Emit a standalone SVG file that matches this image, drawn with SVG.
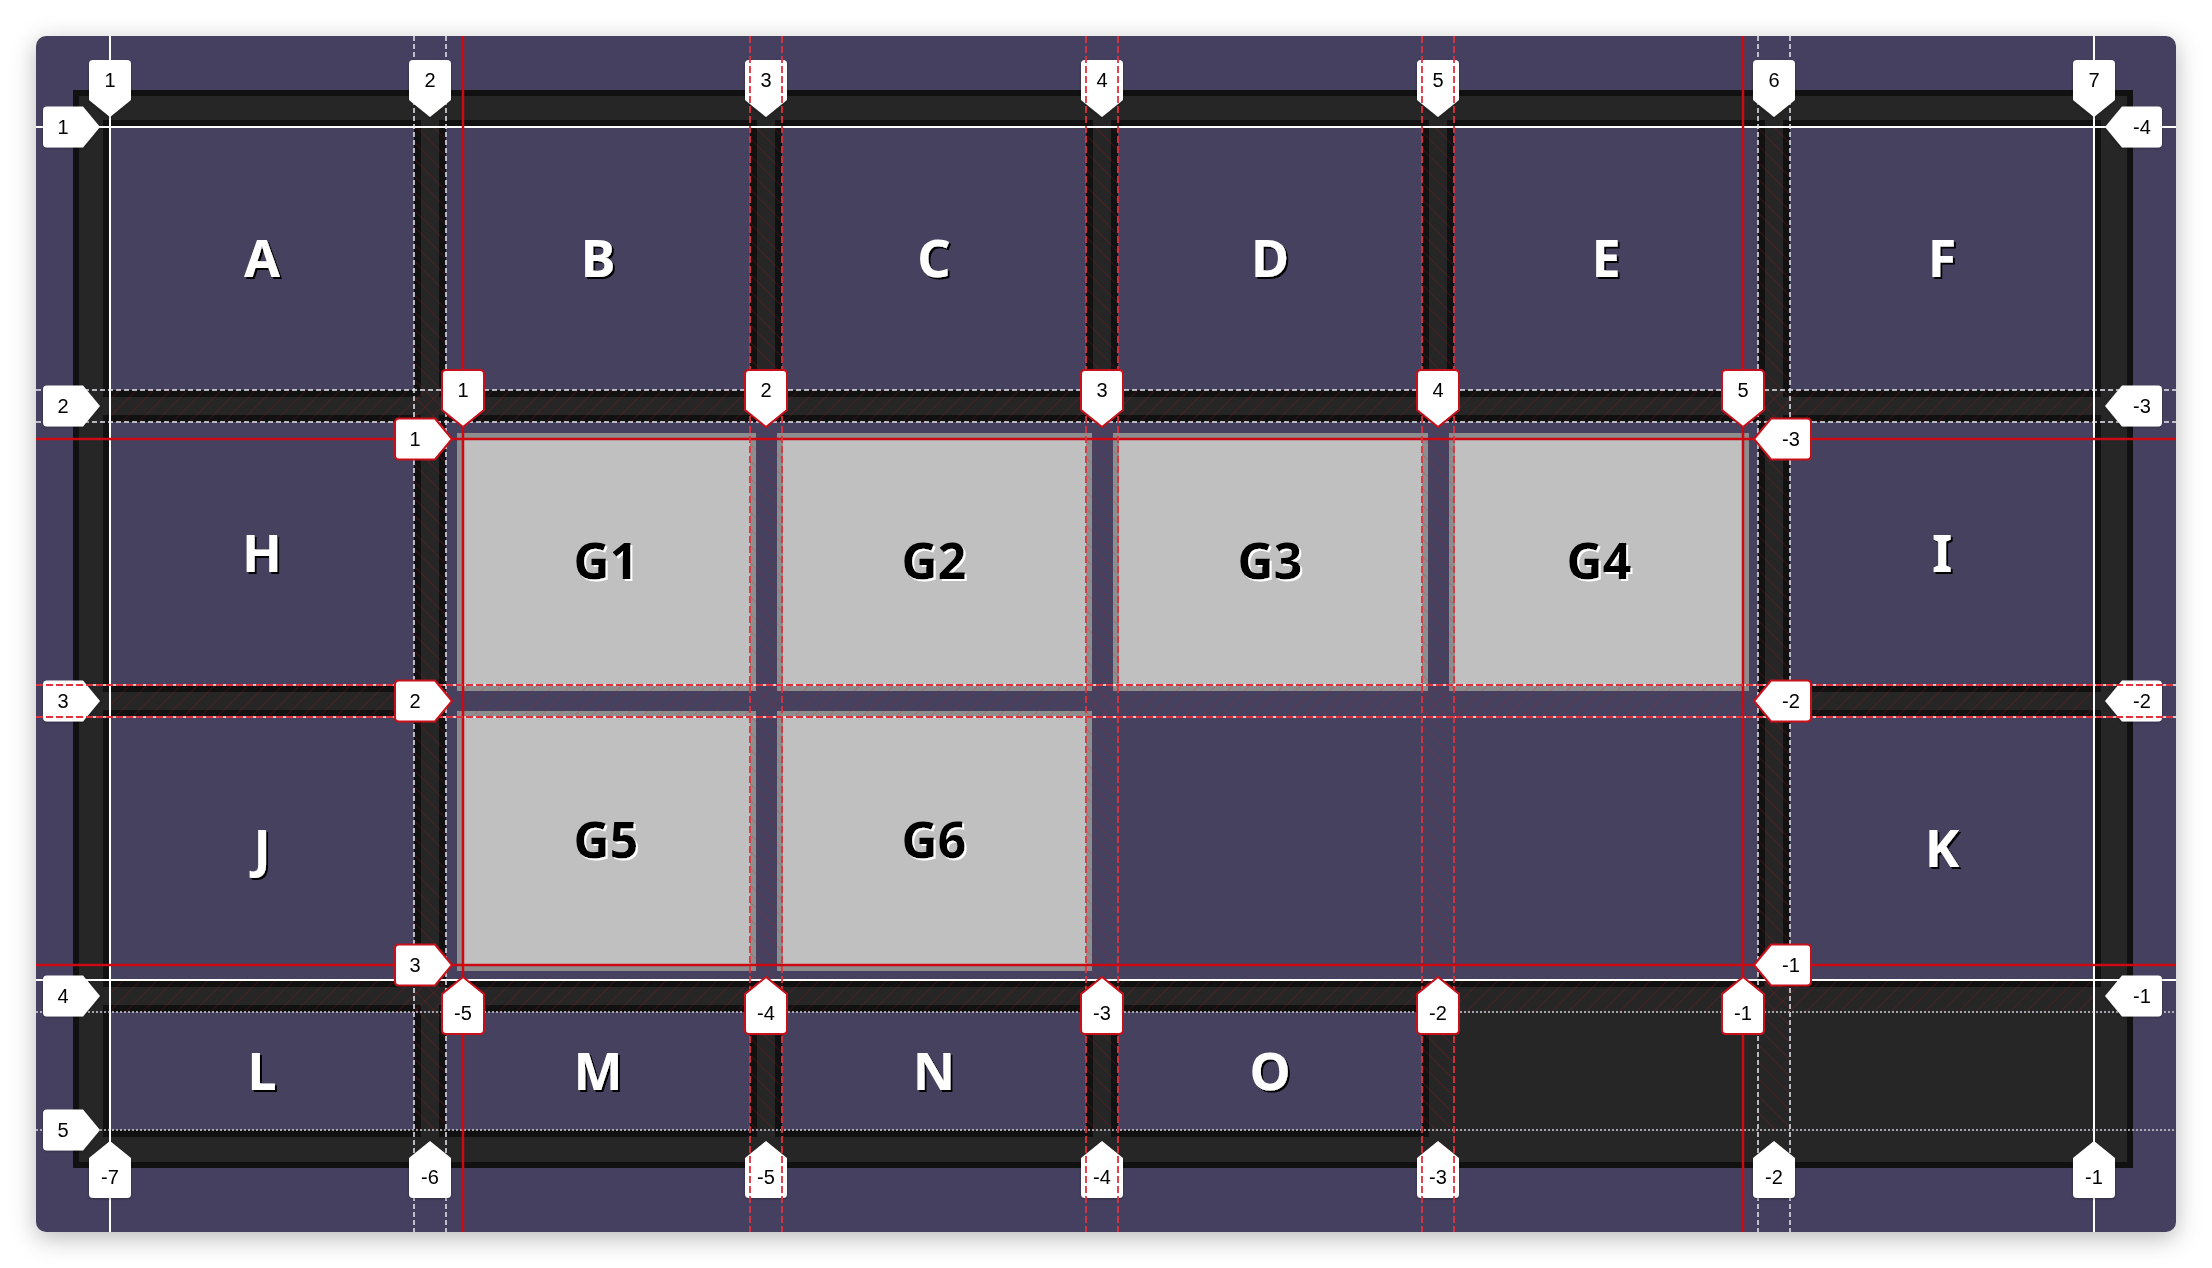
<svg xmlns="http://www.w3.org/2000/svg" xmlns:xlink="http://www.w3.org/1999/xlink" width="2212" height="1268" viewBox="0 0 2212 1268">
<style>
.band{fill:#111111}
.cell{fill:#45415f}
.gband{fill:#8e8e8e}
.gcell{fill:#c0c0c0}
.letter{font-family:"Noto Sans","Liberation Sans",sans-serif;font-weight:700;font-size:52px;fill:#ffffff;text-anchor:middle}
.gletter{font-family:"Noto Sans","Liberation Sans",sans-serif;font-weight:700;font-size:50px;fill:#000000;text-anchor:middle}
.lbl{fill:#ffffff}
.slbl{fill:#ffffff;stroke:#c8101a;stroke-width:2}
.lt{font-family:"Liberation Sans",Arial,sans-serif;font-size:20px;fill:#000000;text-anchor:middle}
.wsolid{stroke:#ffffff;stroke-width:2;fill:none}
.wdash{stroke:#e8e8f0;stroke-width:1.5;stroke-dasharray:5 3;fill:none}
.wdot{stroke:#d0d0d8;stroke-width:1.5;stroke-dasharray:2 2;fill:none}
.rsolid{stroke:#cc0a14;stroke-width:2.5;fill:none}
.rdash{stroke:#e0323c;stroke-width:1.8;stroke-dasharray:7 3;fill:none}
.wunder{stroke:#ffffff;stroke-width:1.5;fill:none}
</style>
<defs>
<filter id="pshadow" x="-5%" y="-5%" width="110%" height="115%">
<feDropShadow dx="0" dy="6" stdDeviation="12" flood-color="#000" flood-opacity="0.28"/>
</filter>
<filter id="tshadow" x="-20%" y="-20%" width="140%" height="140%">
<feDropShadow dx="2" dy="2" stdDeviation="0.3" flood-color="#000" flood-opacity="1"/>
</filter>
<filter id="gshadow" x="-20%" y="-20%" width="140%" height="140%">
<feDropShadow dx="2" dy="2" stdDeviation="0.3" flood-color="#fff" flood-opacity="1"/>
</filter>
<filter id="lshadow" x="-30%" y="-30%" width="160%" height="160%">
<feDropShadow dx="0" dy="1" stdDeviation="1" flood-color="#000" flood-opacity="0.3"/>
</filter>
<pattern id="hatchV" patternUnits="userSpaceOnUse" width="12" height="12" patternTransform="rotate(-45)">
<line x1="0" y1="0" x2="0" y2="12" stroke="#e01020" stroke-width="1" stroke-opacity="0.38"/>
</pattern>
<pattern id="hatchH" patternUnits="userSpaceOnUse" width="12" height="12" patternTransform="rotate(45)">
<line x1="0" y1="0" x2="0" y2="12" stroke="#e01020" stroke-width="1" stroke-opacity="0.38"/>
</pattern>
<clipPath id="panelClip"><rect x="36" y="36" width="2140" height="1196" rx="10"/></clipPath>
<path id="lDown" d="M0,0 L-21,-17 V-53 Q-21,-57 -17,-57 H17 Q21,-57 21,-53 V-17 Z"/>
<path id="lUp" d="M0,0 L-21,17 V53 Q-21,57 -17,57 H17 Q21,57 21,53 V17 Z"/>
<path id="lRight" d="M0,0 L-17,-20.5 H-53 Q-57,-20.5 -57,-16.5 V16.5 Q-57,20.5 -53,20.5 H-17 Z"/>
<path id="lLeft" d="M0,0 L17,-20.5 H53 Q57,-20.5 57,-16.5 V16.5 Q57,20.5 53,20.5 H17 Z"/>
</defs>

<rect width="2212" height="1268" fill="#ffffff"/>
<rect id="panel" x="36" y="36" width="2140" height="1196" rx="10" fill="#45415f" filter="url(#pshadow)"/>

<g clip-path="url(#panelClip)">
<rect id="container" x="76" y="93" width="2054" height="1072" fill="#262626" stroke="#111111" stroke-width="6"/>

<g id="bands">
<rect class="band" x="103" y="120" width="318" height="277"/>
<rect class="band" x="439" y="120" width="318" height="277"/>
<rect class="band" x="775" y="120" width="318" height="277"/>
<rect class="band" x="1111" y="120" width="318" height="277"/>
<rect class="band" x="1447" y="120" width="318" height="277"/>
<rect class="band" x="1783" y="120" width="318" height="277"/>
<rect class="band" x="103" y="415" width="318" height="277"/>
<rect class="band" x="1783" y="415" width="318" height="277"/>
<rect class="band" x="103" y="710" width="318" height="277"/>
<rect class="band" x="1783" y="710" width="318" height="277"/>
<rect class="band" x="439" y="415" width="1326" height="572"/>
<rect class="band" x="103" y="1005" width="318" height="132"/>
<rect class="band" x="439" y="1005" width="318" height="132"/>
<rect class="band" x="775" y="1005" width="318" height="132"/>
<rect class="band" x="1111" y="1005" width="318" height="132"/>
</g>

<g id="cell-A"><rect class="cell" x="110" y="127" width="304" height="263"/></g>
<g id="cell-B"><rect class="cell" x="446" y="127" width="304" height="263"/></g>
<g id="cell-C"><rect class="cell" x="782" y="127" width="304" height="263"/></g>
<g id="cell-D"><rect class="cell" x="1118" y="127" width="304" height="263"/></g>
<g id="cell-E"><rect class="cell" x="1454" y="127" width="304" height="263"/></g>
<g id="cell-F"><rect class="cell" x="1790" y="127" width="304" height="263"/></g>
<g id="cell-H"><rect class="cell" x="110" y="422" width="304" height="263"/></g>
<g id="cell-I"><rect class="cell" x="1790" y="422" width="304" height="263"/></g>
<g id="cell-J"><rect class="cell" x="110" y="717" width="304" height="263"/></g>
<g id="cell-K"><rect class="cell" x="1790" y="717" width="304" height="263"/></g>
<g id="subgrid"><rect class="cell" x="446" y="422" width="1312" height="558"/></g>
<g id="cell-L"><rect class="cell" x="110" y="1012" width="304" height="118"/></g>
<g id="cell-M"><rect class="cell" x="446" y="1012" width="304" height="118"/></g>
<g id="cell-N"><rect class="cell" x="782" y="1012" width="304" height="118"/></g>
<g id="cell-O"><rect class="cell" x="1118" y="1012" width="304" height="118"/></g>

<g id="cell-G1"><rect class="gband" x="457" y="433" width="299" height="258"/><rect class="gcell" x="463" y="439" width="287" height="246"/></g>
<g id="cell-G2"><rect class="gband" x="777" y="433" width="315" height="258"/><rect class="gcell" x="783" y="439" width="303" height="246"/></g>
<g id="cell-G3"><rect class="gband" x="1113" y="433" width="315" height="258"/><rect class="gcell" x="1119" y="439" width="303" height="246"/></g>
<g id="cell-G4"><rect class="gband" x="1449" y="433" width="300" height="258"/><rect class="gcell" x="1455" y="439" width="288" height="246"/></g>
<g id="cell-G5"><rect class="gband" x="457" y="711" width="299" height="260"/><rect class="gcell" x="463" y="717" width="287" height="248"/></g>
<g id="cell-G6"><rect class="gband" x="777" y="711" width="315" height="260"/><rect class="gcell" x="783" y="717" width="303" height="248"/></g>

<g id="hatch">
<rect x="414" y="127" width="32" height="1003" fill="url(#hatchV)"/>
<rect x="750" y="127" width="32" height="1003" fill="url(#hatchV)"/>
<rect x="1086" y="127" width="32" height="1003" fill="url(#hatchV)"/>
<rect x="1422" y="127" width="32" height="1003" fill="url(#hatchV)"/>
<rect x="1758" y="127" width="32" height="1003" fill="url(#hatchV)"/>
<rect x="110" y="390" width="1984" height="32" fill="url(#hatchH)"/>
<rect x="110" y="685" width="1984" height="32" fill="url(#hatchH)"/>
<rect x="110" y="980" width="1984" height="32" fill="url(#hatchH)"/>
</g>

<g id="letters" filter="url(#tshadow)">
<text class="letter" x="262" y="277">A</text>
<text class="letter" x="598" y="277">B</text>
<text class="letter" x="934" y="277">C</text>
<text class="letter" x="1270" y="277">D</text>
<text class="letter" x="1606" y="277">E</text>
<text class="letter" x="1942" y="277">F</text>
<text class="letter" x="262" y="572">H</text>
<text class="letter" x="1942" y="572">I</text>
<text class="letter" x="262" y="867">J</text>
<text class="letter" x="1942" y="867">K</text>
<text class="letter" x="262" y="1090">L</text>
<text class="letter" x="598" y="1090">M</text>
<text class="letter" x="934" y="1090">N</text>
<text class="letter" x="1270" y="1090">O</text>
</g>
<g id="gletters" filter="url(#gshadow)">
<text class="gletter" x="606" y="579">G1</text>
<text class="gletter" x="934" y="579">G2</text>
<text class="gletter" x="1270" y="579">G3</text>
<text class="gletter" x="1599" y="579">G4</text>
<text class="gletter" x="606" y="858">G5</text>
<text class="gletter" x="934" y="858">G6</text>
</g>

<g id="connectors">
<g id="outer-lines">
<line class="wsolid" x1="110" y1="36" x2="110" y2="1232"/>
<line class="wsolid" x1="2094" y1="36" x2="2094" y2="1232"/>
<line class="wsolid" x1="36" y1="127" x2="2176" y2="127"/>
<line class="wsolid" x1="36" y1="980" x2="2176" y2="980"/>
<line class="wdash" x1="414" y1="36" x2="414" y2="1232"/>
<line class="wdash" x1="446" y1="36" x2="446" y2="1232"/>
<line class="wdash" x1="1758" y1="36" x2="1758" y2="1232"/>
<line class="wdash" x1="1790" y1="36" x2="1790" y2="1232"/>
<line class="wdash" x1="36" y1="390" x2="2176" y2="390"/>
<line class="wdash" x1="36" y1="422" x2="2176" y2="422"/>
<line class="wunder" x1="36" y1="685" x2="2176" y2="685"/>
<line class="wunder" x1="36" y1="717" x2="2176" y2="717"/>
<line class="wdot" x1="36" y1="1012" x2="2176" y2="1012"/>
<line class="wdot" x1="36" y1="1130" x2="2176" y2="1130"/>
</g>

<g id="outer-labels" filter="url(#lshadow)">
<use href="#lDown" class="lbl" x="110" y="117"/>
<use href="#lDown" class="lbl" x="430" y="117"/>
<use href="#lDown" class="lbl" x="766" y="117"/>
<use href="#lDown" class="lbl" x="1102" y="117"/>
<use href="#lDown" class="lbl" x="1438" y="117"/>
<use href="#lDown" class="lbl" x="1774" y="117"/>
<use href="#lDown" class="lbl" x="2094" y="117"/>
<use href="#lUp" class="lbl" x="110" y="1141"/>
<use href="#lUp" class="lbl" x="430" y="1141"/>
<use href="#lUp" class="lbl" x="766" y="1141"/>
<use href="#lUp" class="lbl" x="1102" y="1141"/>
<use href="#lUp" class="lbl" x="1438" y="1141"/>
<use href="#lUp" class="lbl" x="1774" y="1141"/>
<use href="#lUp" class="lbl" x="2094" y="1141"/>
<use href="#lRight" class="lbl" x="100" y="127"/>
<use href="#lRight" class="lbl" x="100" y="406"/>
<use href="#lRight" class="lbl" x="100" y="701"/>
<use href="#lRight" class="lbl" x="100" y="996"/>
<use href="#lRight" class="lbl" x="100" y="1130"/>
<use href="#lLeft" class="lbl" x="2105" y="127"/>
<use href="#lLeft" class="lbl" x="2105" y="406"/>
<use href="#lLeft" class="lbl" x="2105" y="701"/>
<use href="#lLeft" class="lbl" x="2105" y="996"/>
</g>
<g id="outer-label-text">
<text class="lt" x="110" y="87">1</text>
<text class="lt" x="430" y="87">2</text>
<text class="lt" x="766" y="87">3</text>
<text class="lt" x="1102" y="87">4</text>
<text class="lt" x="1438" y="87">5</text>
<text class="lt" x="1774" y="87">6</text>
<text class="lt" x="2094" y="87">7</text>
<text class="lt" x="110" y="1184">-7</text>
<text class="lt" x="430" y="1184">-6</text>
<text class="lt" x="766" y="1184">-5</text>
<text class="lt" x="1102" y="1184">-4</text>
<text class="lt" x="1438" y="1184">-3</text>
<text class="lt" x="1774" y="1184">-2</text>
<text class="lt" x="2094" y="1184">-1</text>
<text class="lt" x="63" y="134">1</text>
<text class="lt" x="63" y="413">2</text>
<text class="lt" x="63" y="708">3</text>
<text class="lt" x="63" y="1003">4</text>
<text class="lt" x="63" y="1137">5</text>
<text class="lt" x="2142" y="134">-4</text>
<text class="lt" x="2142" y="413">-3</text>
<text class="lt" x="2142" y="708">-2</text>
<text class="lt" x="2142" y="1003">-1</text>
</g>

<g id="subgrid-lines">
<line class="rsolid" x1="463" y1="36" x2="463" y2="1232"/>
<line class="rsolid" x1="1743" y1="36" x2="1743" y2="1232"/>
<line class="rsolid" x1="36" y1="439" x2="2176" y2="439"/>
<line class="rsolid" x1="36" y1="965" x2="2176" y2="965"/>
<line class="rdash" x1="750" y1="36" x2="750" y2="1232"/>
<line class="rdash" x1="782" y1="36" x2="782" y2="1232"/>
<line class="rdash" x1="1086" y1="36" x2="1086" y2="1232"/>
<line class="rdash" x1="1118" y1="36" x2="1118" y2="1232"/>
<line class="rdash" x1="1422" y1="36" x2="1422" y2="1232"/>
<line class="rdash" x1="1454" y1="36" x2="1454" y2="1232"/>
<line class="rdash" x1="36" y1="685" x2="2176" y2="685"/>
<line class="rdash" x1="36" y1="717" x2="2176" y2="717"/>
</g>

<g id="subgrid-labels">
<use href="#lDown" class="slbl" x="463" y="427"/>
<use href="#lDown" class="slbl" x="766" y="427"/>
<use href="#lDown" class="slbl" x="1102" y="427"/>
<use href="#lDown" class="slbl" x="1438" y="427"/>
<use href="#lDown" class="slbl" x="1743" y="427"/>
<use href="#lUp" class="slbl" x="463" y="977"/>
<use href="#lUp" class="slbl" x="766" y="977"/>
<use href="#lUp" class="slbl" x="1102" y="977"/>
<use href="#lUp" class="slbl" x="1438" y="977"/>
<use href="#lUp" class="slbl" x="1743" y="977"/>
<use href="#lRight" class="slbl" x="452" y="439"/>
<use href="#lRight" class="slbl" x="452" y="701"/>
<use href="#lRight" class="slbl" x="452" y="965"/>
<use href="#lLeft" class="slbl" x="1754" y="439"/>
<use href="#lLeft" class="slbl" x="1754" y="701"/>
<use href="#lLeft" class="slbl" x="1754" y="965"/>
</g>
<g id="subgrid-label-text">
<text class="lt" x="463" y="397">1</text>
<text class="lt" x="766" y="397">2</text>
<text class="lt" x="1102" y="397">3</text>
<text class="lt" x="1438" y="397">4</text>
<text class="lt" x="1743" y="397">5</text>
<text class="lt" x="463" y="1020">-5</text>
<text class="lt" x="766" y="1020">-4</text>
<text class="lt" x="1102" y="1020">-3</text>
<text class="lt" x="1438" y="1020">-2</text>
<text class="lt" x="1743" y="1020">-1</text>
<text class="lt" x="415" y="446">1</text>
<text class="lt" x="415" y="708">2</text>
<text class="lt" x="415" y="972">3</text>
<text class="lt" x="1791" y="446">-3</text>
<text class="lt" x="1791" y="708">-2</text>
<text class="lt" x="1791" y="972">-1</text>
</g>
</g>
</g>
</svg>
